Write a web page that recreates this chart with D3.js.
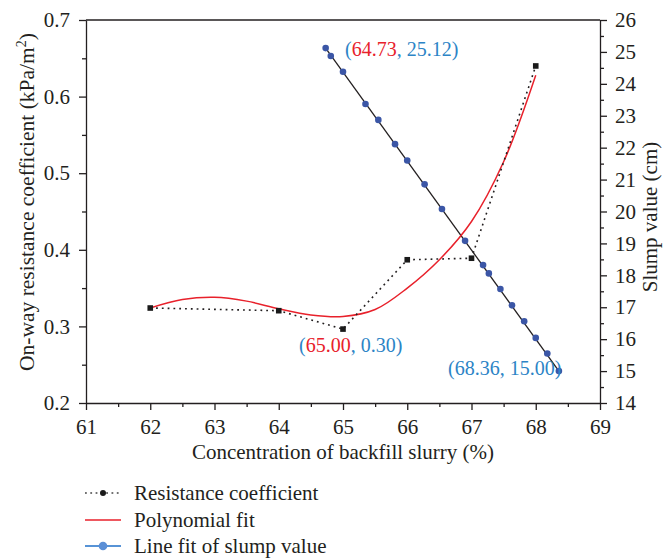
<!DOCTYPE html>
<html>
<head>
<meta charset="utf-8">
<script src="https://cdn.jsdelivr.net/npm/d3@7"></script>
<style>
  body { margin: 0; background: #fff; }
  svg text { font-family: "Liberation Serif", "DejaVu Serif", serif; fill: #231f20; }
  .axis path, .axis line { stroke: #231f20; stroke-width: 1.3; }
</style>
</head>
<body>
<svg id="chart" width="664" height="558"></svg>
<script>
// resistance coefficient measurements
const concentration = [62, 64, 65, 66, 67, 68]
const resistance = [0.324, 0.3205, 0.2965, 0.387, 0.389, 0.640]

// red polynomial fit
const polyX = [62, 62.5, 63, 63.5, 64, 64.5, 65, 65.5, 66, 66.5, 67, 67.5, 68]
const polyY = [0.324, 0.335, 0.338, 0.333, 0.323, 0.315, 0.313, 0.322, 0.350, 0.387, 0.437, 0.515, 0.628]

// slump value points (right axis)
const slumpX = [64.73, 64.81, 65.00, 65.35, 65.55, 65.81, 66.00, 66.27, 66.54, 66.90, 67.18, 67.27, 67.45, 67.63, 67.82, 68.00, 68.18, 68.36]
const slumpY = [25.12, 24.87, 24.38, 23.37, 22.87, 22.11, 21.60, 20.85, 20.08, 19.08, 18.32, 18.06, 17.57, 17.06, 16.56, 16.04, 15.55, 15.00]

const xTicks = [61, 62, 63, 64, 65, 66, 67, 68, 69]
const yLeftTicks = [0.2, 0.3, 0.4, 0.5, 0.6, 0.7]
const yRightTicks = [14, 15, 16, 17, 18, 19, 20, 21, 22, 23, 24, 25, 26]
const legendLabels = ['Resistance coefficient', 'Polynomial fit', 'Line fit of slump value']

const red = '#e8212b'
const dotBlue = '#3b56a6'
const noteBlue = '#2c84c6'

const svg = d3.select('#chart')

const xScale = d3.scaleLinear().domain([61, 69]).range([86, 600])
const yLeft = d3.scaleLinear().domain([0.2, 0.7]).range([403, 20])
const yRight = d3.scaleLinear().domain([14, 26]).range([403, 20])

// frame top line
svg.append('line')
    .attr('x1', 86).attr('x2', 600).attr('y1', 20).attr('y2', 20)
    .attr('stroke', '#231f20').attr('stroke-width', 1.3)

// minor ticks first, then major axes
svg.append('g').attr('class', 'axis').attr('transform', 'translate(0,403)')
    .call(d3.axisBottom(xScale).tickValues(d3.range(61.5, 69, 1)).tickSize(4).tickFormat(''))
    .select('.domain').remove()
svg.append('g').attr('class', 'axis').attr('transform', 'translate(86,0)')
    .call(d3.axisLeft(yLeft).tickValues(d3.range(0.25, 0.7, 0.1)).tickSize(4).tickFormat(''))
    .select('.domain').remove()
svg.append('g').attr('class', 'axis').attr('transform', 'translate(600,0)')
    .call(d3.axisRight(yRight).tickValues(d3.range(14.5, 26, 1)).tickSize(4).tickFormat(''))
    .select('.domain').remove()

svg.append('g').attr('class', 'axis').attr('transform', 'translate(0,403)')
    .call(d3.axisBottom(xScale).tickValues(xTicks).tickSize(7).tickSizeOuter(0).tickPadding(9).tickFormat(d3.format('d')))
svg.append('g').attr('class', 'axis').attr('transform', 'translate(86,0)')
    .call(d3.axisLeft(yLeft).tickValues(yLeftTicks).tickSize(7).tickSizeOuter(0).tickPadding(9).tickFormat(d3.format('.1f')))
svg.append('g').attr('class', 'axis').attr('transform', 'translate(600,0)')
    .call(d3.axisRight(yRight).tickValues(yRightTicks).tickSize(7).tickSizeOuter(0).tickPadding(8).tickFormat(d3.format('d')))

svg.selectAll('.axis text').attr('font-size', 21)
    .style('font-family', '"Liberation Serif", serif').attr('fill', '#231f20')

// axis titles
svg.append('text')
    .attr('x', 343).attr('y', 459)
    .attr('text-anchor', 'middle').attr('font-size', 21)
    .text('Concentration of backfill slurry (%)')

const leftTitle = svg.append('text')
    .attr('transform', 'translate(34,202) rotate(-90)')
    .attr('text-anchor', 'middle').attr('font-size', 21.5)
leftTitle.append('tspan').text('On-way resistance coefficient (kPa/m')
leftTitle.append('tspan').attr('font-size', 14).attr('dy', -8).text('2')
leftTitle.append('tspan').attr('dy', 8).text(')')

svg.append('text')
    .attr('transform', 'translate(657,217) rotate(-90)')
    .attr('text-anchor', 'middle').attr('font-size', 21)
    .text('Slump value (cm)')

// slump fit line and points
const slumpPts = slumpX.map((x, i) => ({ x: x, y: slumpY[i] }))
svg.append('line')
    .attr('x1', xScale(slumpX[0])).attr('y1', yRight(slumpY[0]))
    .attr('x2', xScale(slumpX[slumpX.length - 1])).attr('y2', yRight(slumpY[slumpY.length - 1]))
    .attr('stroke', '#231f20').attr('stroke-width', 1.3)

// polynomial fit
const polyPts = polyX.map((x, i) => ({ x: x, y: polyY[i] }))
svg.append('path')
    .datum(polyPts)
    .attr('fill', 'none').attr('stroke', red).attr('stroke-width', 1.5)
    .attr('d', d3.line().x(d => xScale(d.x)).y(d => yLeft(d.y)).curve(d3.curveCatmullRom))

// resistance coefficient dotted line + squares
const resPts = concentration.map((x, i) => ({ x: x, y: resistance[i] }))
svg.append('path')
    .datum(resPts)
    .attr('fill', 'none').attr('stroke', '#231f20').attr('stroke-width', 1.6)
    .attr('stroke-dasharray', '1.8,4')
    .attr('d', d3.line().x(d => xScale(d.x)).y(d => yLeft(d.y)))

svg.selectAll('.sq')
    .data(resPts)
    .enter()
    .append('rect')
    .attr('x', d => xScale(d.x) - 2.8)
    .attr('y', d => yLeft(d.y) - 2.8)
    .attr('width', 5.6).attr('height', 5.6)
    .attr('fill', '#1a1a1a')

svg.selectAll('.dot')
    .data(slumpPts)
    .enter()
    .append('circle')
    .attr('cx', d => xScale(d.x))
    .attr('cy', d => yRight(d.y))
    .attr('r', 3.3)
    .attr('fill', dotBlue)

// annotations
function note(x, y, parts) {
    const t = svg.append('text').attr('x', x).attr('y', y).attr('font-size', 20)
    parts.forEach(p => t.append('tspan').attr('fill', p[1]).text(p[0]))
}
note(345, 56, [['(', noteBlue], ['64.73', red], [', 25.12)', noteBlue]])
note(299, 352, [['(', noteBlue], ['65.00', red], [', 0.30)', noteBlue]])
note(448, 375, [['(68.36, 15.00)', noteBlue]])

// legend
const legendY = [493, 520, 546]
const legend = svg.selectAll('.legend')
    .data(legendLabels)
    .enter()
    .append('g')
    .attr('transform', (d, i) => 'translate(0,' + legendY[i] + ')')

legend.append('text')
    .attr('x', 134).attr('y', 6.5)
    .attr('font-size', 21)
    .text(d => d)

legend.filter((d, i) => i === 0).append('line')
    .attr('x1', 85).attr('x2', 121).attr('y1', 0).attr('y2', 0)
    .attr('stroke', '#444').attr('stroke-width', 1.6).attr('stroke-dasharray', '1.8,3.5')
legend.filter((d, i) => i === 0).append('circle')
    .attr('cx', 103).attr('cy', 0).attr('r', 3).attr('fill', '#1a1a1a')

legend.filter((d, i) => i === 1).append('line')
    .attr('x1', 85).attr('x2', 121).attr('y1', 0).attr('y2', 0)
    .attr('stroke', red).attr('stroke-width', 1.5)

legend.filter((d, i) => i === 2).append('line')
    .attr('x1', 85).attr('x2', 121).attr('y1', 0).attr('y2', 0)
    .attr('stroke', '#1f6fc8').attr('stroke-width', 1.5)
legend.filter((d, i) => i === 2).append('circle')
    .attr('cx', 103).attr('cy', 0).attr('r', 4.3).attr('fill', '#5b8fd6')
</script>
</body>
</html>
